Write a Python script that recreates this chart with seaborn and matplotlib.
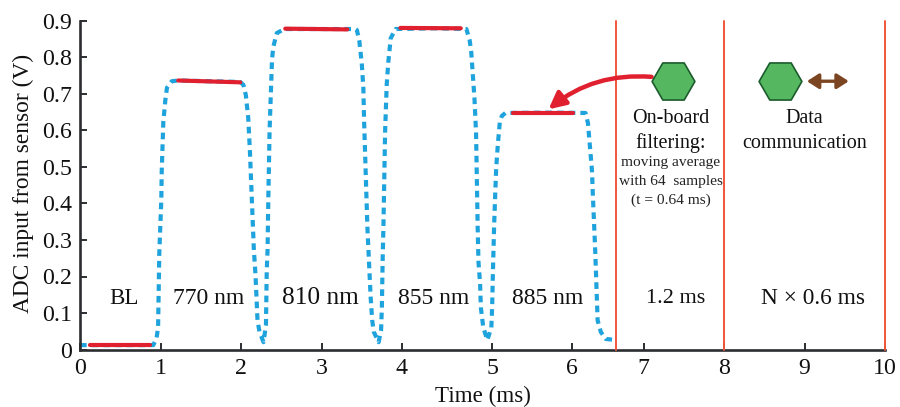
import seaborn as sns
import matplotlib
matplotlib.use("Agg")
import matplotlib.pyplot as plt

# blue trace
time_ms = [0.0, 0.04, 0.5, 0.91, 0.95, 0.97, 0.985, 1.01, 1.015, 1.035, 1.06, 1.08, 1.14, 1.22, 1.99, 2.03, 2.06, 2.09, 2.11, 2.13,
           2.16, 2.18, 2.205, 2.23, 2.28, 2.31, 2.32, 2.33, 2.34, 2.355, 2.37, 2.385, 2.40, 2.445, 2.54, 3.0, 3.42,
           3.44, 3.47, 3.50, 3.52, 3.53, 3.57, 3.59, 3.61, 3.63, 3.65, 3.71, 3.74, 3.75, 3.76, 3.77, 3.79, 3.81, 3.83, 3.86, 3.92, 4.4, 4.80,
           4.84, 4.86, 4.88, 4.90, 4.92, 4.94, 4.95, 4.97, 4.98, 5.01, 5.06, 5.11, 5.12, 5.13, 5.145, 5.16, 5.17, 5.19, 5.215, 5.24, 5.285, 5.8, 6.28,
           6.31, 6.335, 6.36, 6.37, 6.40, 6.43, 6.47, 6.53, 6.65]
adc_v = [0.012, 0.012, 0.012, 0.012, 0.03, 0.06, 0.264, 0.41, 0.486, 0.623, 0.683, 0.717, 0.735, 0.737, 0.733, 0.725, 0.697, 0.634, 0.547, 0.437,
         0.272, 0.204, 0.08, 0.048, 0.02, 0.067, 0.218, 0.272, 0.423, 0.60, 0.697, 0.793, 0.828, 0.867, 0.878, 0.878, 0.878,
         0.875, 0.845, 0.785, 0.716, 0.62, 0.335, 0.24, 0.145, 0.08, 0.048, 0.02, 0.053, 0.117, 0.25, 0.344, 0.596, 0.725, 0.788, 0.853, 0.878, 0.88, 0.878,
         0.848, 0.815, 0.752, 0.689, 0.593, 0.335, 0.24, 0.18, 0.114, 0.06, 0.026, 0.06, 0.117, 0.218, 0.344, 0.437, 0.497, 0.56, 0.623, 0.64, 0.648, 0.649, 0.648,
         0.62, 0.555, 0.49, 0.428, 0.272, 0.08, 0.048, 0.029, 0.026]

# red stretches: start, end, level at start, level at end
red_t0 = [0.13, 1.22, 2.55, 3.98, 5.38]
red_t1 = [0.87, 1.99, 3.32, 4.73, 6.13]
red_v0 = [0.012, 0.737, 0.879, 0.881, 0.649]
red_v1 = [0.012, 0.732, 0.877, 0.880, 0.649]

phase_lines = [6.66, 8, 10]
xtick_pos = [0, 1, 2, 3, 4, 5.12, 6.11, 7, 8, 9, 10]
xtick_labels = ["0", "1", "2", "3", "4", "5", "6", "7", "8", "9", "10"]
yticks = [0, 0.1, 0.2, 0.3, 0.4, 0.5, 0.6, 0.7, 0.8, 0.9]
ytick_labels = ["0", "0.1", "0.2", "0.3", "0.4", "0.5", "0.6", "0.7", "0.8", "0.9"]

band_names = ["BL", "770 nm", "810 nm", "855 nm", "885 nm", "1.2 ms", "N × 0.6 ms"]
band_x = [0.55, 1.6, 2.98, 4.39, 5.81, 7.4, 9.1]
band_size = [16.5, 17, 18.3, 17, 17, 16, 16.8]

sns.set_style("ticks")
plt.rcParams['font.family'] = ['Liberation Serif', 'DejaVu Serif']
plt.rcParams['axes.linewidth'] = 1.9
dark = '#2b2d30'

fig = plt.figure(figsize=(9, 4.07), dpi=100)
ax = fig.add_axes([80 / 900, 1 - 349.5 / 407, 805 / 900, 328.5 / 407])

sns.lineplot(x=time_ms, y=adc_v, sort=False, estimator=None, color='#1fa3dc', linewidth=3.0,
             linestyle=(0, (1.6, 1.2)), ax=ax)

# red averaged stretches
for i in range(len(red_t0)):
    sns.lineplot(x=[red_t0[i], red_t1[i]], y=[red_v0[i], red_v1[i]], estimator=None, color='#e0202f',
                 linewidth=3.0, ax=ax)

for p in phase_lines:
    ax.plot([p, p], [0, 0.9], color='#f0563a', linewidth=1.4, zorder=3, clip_on=False)

ax.set_xlim(0, 10)
ax.set_ylim(0, 0.9)
ax.set_xticks(xtick_pos)
ax.set_xticklabels(xtick_labels)
ax.set_yticks(yticks)
ax.set_yticklabels(ytick_labels)
ax.tick_params(direction='in', length=5, width=1.4, color=dark, labelsize=17.2, labelcolor='#111111', pad=6)
ax.tick_params(axis='y', pad=6)
for s in ['left', 'bottom']:
    ax.spines[s].set_color(dark)
sns.despine(ax=ax)

ax.set_xlabel("Time (ms)", fontsize=16.6, color='#111111')
ax.xaxis.set_label_coords(0.5, -0.11)
ax.set_ylabel("ADC input from sensor (V)", fontsize=16.8, color='#111111')
ax.yaxis.set_label_coords(-0.057, 0.505)

for name, x, size in zip(band_names, band_x, band_size):
    ax.text(x, 0.14, name, ha='center', va='center', fontsize=size, color='#111111')

ax.text(7.34, 0.633, "On-board", ha='center', va='center', fontsize=14.5, color='#111111')
ax.text(7.34, 0.565, "filtering:", ha='center', va='center', fontsize=14.5, color='#111111')
ax.text(7.34, 0.511, "moving average", ha='center', va='center', fontsize=11.1, color='#222222')
ax.text(7.34, 0.459, "with 64  samples", ha='center', va='center', fontsize=11.1, color='#222222')
ax.text(7.34, 0.41, "(t = 0.64 ms)", ha='center', va='center', fontsize=11.1, color='#222222')
ax.text(9.0, 0.633, "Data", ha='center', va='center', fontsize=14.5, color='#111111')
ax.text(9.0, 0.565, "communication", ha='center', va='center', fontsize=14.5, color='#111111')

# hexagons and arrows
ax.scatter([7.37, 8.70], [0.735, 0.735], marker='H', s=950, facecolor='#55b860', edgecolor='#1b5c2c',
           linewidth=1.2, zorder=5)
ax.annotate("", xy=(5.82, 0.658), xytext=(7.1, 0.747),
            arrowprops=dict(arrowstyle='-|>,head_length=1.0,head_width=0.5', color='#e0202f', lw=3.2,
                            connectionstyle='arc3,rad=0.2', shrinkA=0, shrinkB=0), zorder=4)
ax.annotate("", xy=(9.55, 0.735), xytext=(9.03, 0.735),
            arrowprops=dict(arrowstyle='<|-|>,head_length=0.7,head_width=0.45', color='#7b4522', lw=2.4,
                            shrinkA=0, shrinkB=0), zorder=4)

fig.savefig('out.png', dpi=100)
